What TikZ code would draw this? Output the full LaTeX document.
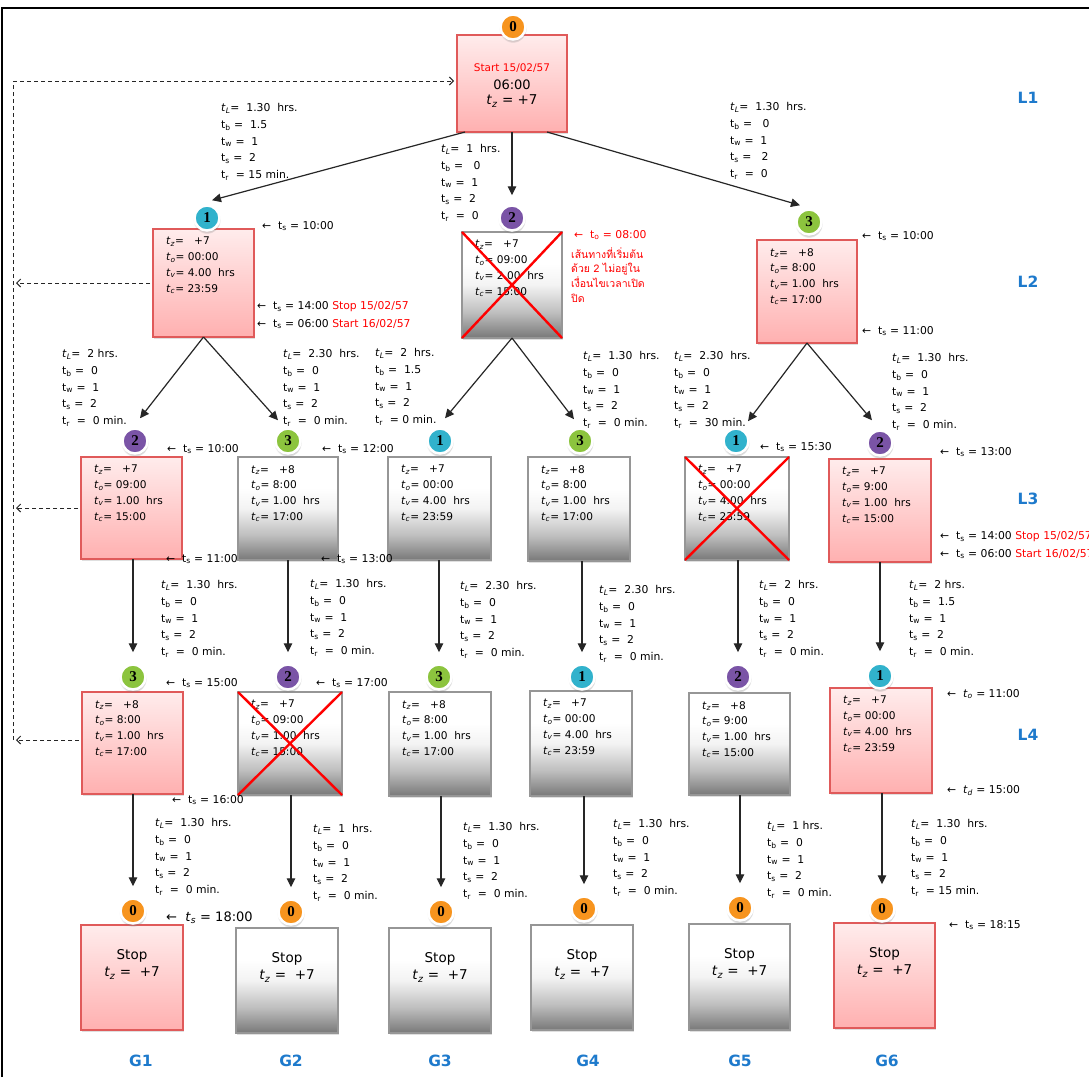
\documentclass[tikz,border=0pt]{standalone}
\usepackage{fontspec}
\setmainfont{DejaVu Sans}
\newfontfamily\thaifont[Script=Thai]{Loma}
\newfontfamily\numfont{Liberation Serif}
\usetikzlibrary{arrows.meta,shadows,calc}
\definecolor{pinkT}{RGB}{255,236,236}
\definecolor{pinkB}{RGB}{255,176,176}
\definecolor{pinkD}{RGB}{224,90,90}
\definecolor{grayD}{RGB}{150,150,150}
\definecolor{grayB}{RGB}{120,120,120}
\definecolor{grayM}{RGB}{190,190,190}
\definecolor{grayL}{RGB}{243,243,243}
\definecolor{orB}{RGB}{247,148,30}
\definecolor{teB}{RGB}{49,178,204}
\definecolor{puB}{RGB}{122,84,166}
\definecolor{grB}{RGB}{140,196,62}
\definecolor{blL}{RGB}{30,122,204}
\definecolor{redT}{RGB}{255,0,0}
\pgfdeclareverticalshading{pinkshade}{100bp}{color(0bp)=(pinkB); color(25bp)=(pinkB); color(75bp)=(pinkT); color(100bp)=(pinkT)}
\pgfdeclareverticalshading{grayshade}{100bp}{color(0bp)=(grayB); color(25bp)=(grayB); color(37bp)=(grayM); color(50bp)=(grayL); color(60bp)=(white); color(100bp)=(white)}
\newcommand{\ti}[1]{\textit{t}\textsubscript{\textit{#1}}}
\newcommand{\tu}[1]{t\textsubscript{#1}}
\newcommand{\bx}[6]{\node[#2, minimum width={#5-#3}, minimum height={#6-#4}] (#1) at ({(#3+#5)/2},{(#4+#6)/2}) {};}
\newcommand{\btx}[5]{\node[btxt] (#1t) at ([xshift=13pt,yshift=-8pt]#1.north west) {\ti{z}= \ \ #2\\\ti{o}= #3\\\ti{v}= #4\ \ hrs\\\ti{c}= #5};}
\newcommand{\stoptx}[1]{\node[stxt] (#1s) at ([yshift=-31pt]#1.north) {Stop};\node[stxt] (#1z) at ([yshift=-48pt]#1.north) {\ti{z} = \ +7};}
\newcommand{\elab}[7]{\node[elabel] (#1) at (#2) {\ti{L}= \ #3\\\tu{b} = \ #4\\\tu{w} = \ #5\\\tu{s} = \ #6\\\tu{r} \ = #7};}
\newcommand{\ann}[3]{\node[annot] (#1) at (#2) {←\ \ #3};}
\newcommand{\bdg}[4]{\node[badge=#2] (#1) at (#3) {#4};}
\tikzset{
  boxbase/.style={rectangle, inner sep=0pt, outer sep=0pt, line width=1.2pt, drop shadow={shadow xshift=0.5pt, shadow yshift=-2pt, opacity=0.25}},
  pinkbox/.style={boxbase, draw=pinkD, shade, shading=pinkshade},
  graybox/.style={boxbase, draw=grayD, shade, shading=grayshade},
  badge/.style={circle, fill=#1, draw=white, line width=2.5pt, minimum size=25pt, inner sep=0pt, font=\numfont\bfseries\fontsize{15}{15}\selectfont, circular drop shadow={shadow xshift=0pt, shadow yshift=-2pt, opacity=0.35}},
  btxt/.style={anchor=north west, inner sep=0pt, align=left, font=\fontsize{10.6}{15.7}\selectfont},
  stxt/.style={inner sep=0pt, font=\fontsize{13.5}{13.5}\selectfont},
  elabel/.style={anchor=north west, inner sep=0pt, align=left, font=\fontsize{10.8}{16.8}\selectfont},
  annot/.style={anchor=west, inner sep=0pt, font=\fontsize{10.8}{12}\selectfont},
  arr/.style={draw=black!85, line width=1.2pt, -{Triangle[length=9pt,width=8.5pt]}},
  dsh/.style={draw=black!85, line width=1pt, dash pattern=on 4pt off 3pt},
  barb/.style={-{Straight Barb[length=4pt,width=8pt]}},
  redx/.style={draw=redT, line width=2.4pt},
  lvl/.style={font=\bfseries\fontsize{15.5}{15.5}\selectfont, text=blL, inner sep=0pt},
}
\begin{document}
\begin{tikzpicture}[x=1pt,y=-1pt]
\useasboundingbox (0,0) rectangle (1089,1077);
\fill[white] (0,0) rectangle (1089,1077);
\draw[line width=1.6pt] (2,1077) -- (2,8) -- (1089,8);
% boxes
\bx{r}{pinkbox}{457}{35}{567}{132}
\bx{n1}{pinkbox}{153}{229}{254}{337}
\bx{n2}{graybox}{462}{232}{562}{338}
\bx{n3}{pinkbox}{757}{240}{857}{343}
\bx{A}{pinkbox}{81}{457}{182}{559}
\bx{B}{graybox}{238}{457}{338}{560}
\bx{C}{graybox}{388}{457}{491}{560}
\bx{D}{graybox}{528}{457}{630}{561}
\bx{E}{graybox}{685}{457}{789}{560}
\bx{F}{pinkbox}{829}{459}{931}{562}
\bx{A2}{pinkbox}{82}{692}{183}{794}
\bx{B2}{graybox}{238}{692}{342}{795}
\bx{C2}{graybox}{389}{692}{491}{796}
\bx{D2}{graybox}{530}{691}{632}{796}
\bx{E2}{graybox}{689}{693}{790}{795}
\bx{F2}{pinkbox}{830}{688}{932}{793}
\bx{G1}{pinkbox}{81}{925}{183}{1030}
\bx{G2}{graybox}{236}{928}{338}{1033}
\bx{G3}{graybox}{389}{928}{491}{1033}
\bx{G4}{graybox}{531}{925}{633}{1030}
\bx{G5}{graybox}{689}{924}{790}{1030}
\bx{G6}{pinkbox}{834}{923}{935}{1028}
% root text
\node[inner sep=0pt, text=redT, font=\fontsize{10.5}{10.5}\selectfont] (rt1) at (512,68) {Start 15/02/57};
\node[inner sep=0pt, font=\fontsize{13}{13}\selectfont] (rt2) at (512,85) {06:00};
\node[inner sep=0pt, font=\fontsize{13.5}{13.5}\selectfont] (rt3) at (512,101) {\ti{z} = +7};
% box texts
\btx{n1}{+7}{00:00}{4.00}{23:59}
\btx{n2}{+7}{09:00}{2.00}{15:00}
\btx{n3}{+8}{8:00}{1.00}{17:00}
\btx{A}{+7}{09:00}{1.00}{15:00}
\btx{B}{+8}{8:00}{1.00}{17:00}
\btx{C}{+7}{00:00}{4.00}{23:59}
\btx{D}{+8}{8:00}{1.00}{17:00}
\btx{E}{+7}{00:00}{4.00}{23:59}
\btx{F}{+7}{9:00}{1.00}{15:00}
\btx{A2}{+8}{8:00}{1.00}{17:00}
\btx{B2}{+7}{09:00}{1.00}{15:00}
\btx{C2}{+8}{8:00}{1.00}{17:00}
\btx{D2}{+7}{00:00}{4.00}{23:59}
\btx{E2}{+8}{9:00}{1.00}{15:00}
\btx{F2}{+7}{00:00}{4.00}{23:59}
\stoptx{G1}\stoptx{G2}\stoptx{G3}\stoptx{G4}\stoptx{G5}\stoptx{G6}
% crosses
\draw[redx] (n2.north west) -- (n2.south east) (n2.north east) -- (n2.south west);
\draw[redx] (E.north west) -- (E.south east) (E.north east) -- (E.south west);
\draw[redx] (B2.north west) -- (B2.south east) (B2.north east) -- (B2.south west);
% badges
\bdg{b0}{orB}{513,27}{0}
\bdg{b1}{teB}{207,218}{1}
\bdg{b2}{puB}{512,218}{2}
\bdg{b3}{grB}{809,222}{3}
\bdg{bA}{puB}{135,441}{2}
\bdg{bB}{grB}{288,441}{3}
\bdg{bC}{teB}{440,441}{1}
\bdg{bD}{grB}{580,441}{3}
\bdg{bE}{teB}{736,441}{1}
\bdg{bF}{puB}{880,443}{2}
\bdg{bA2}{grB}{133,677}{3}
\bdg{bB2}{puB}{288,677}{2}
\bdg{bC2}{grB}{439,677}{3}
\bdg{bD2}{teB}{582,677}{1}
\bdg{bE2}{puB}{738,677}{2}
\bdg{bF2}{teB}{880,676}{1}
\bdg{g1}{orB}{133,911}{0}
\bdg{g2}{orB}{291,912}{0}
\bdg{g3}{orB}{441,912}{0}
\bdg{g4}{orB}{584,909}{0}
\bdg{g5}{orB}{740,908}{0}
\bdg{g6}{orB}{882,909}{0}
% connectors
\draw[arr] ([xshift=8pt]r.south west) -- ([xshift=5pt,yshift=4pt]b1.north);
\draw[arr] (r.south) -- ([yshift=9pt]b2.north);
\draw[arr] ([xshift=-20pt]r.south east) -- ([xshift=-9pt,yshift=3pt]b3.north);
\draw[arr] (n1.south) -- ([xshift=5pt,yshift=9pt]bA.north);
\draw[arr] (n1.south) -- ([xshift=-10pt,yshift=7pt]bB.north);
\draw[arr] (n2.south) -- ([xshift=5pt,yshift=9pt]bC.north);
\draw[arr] (n2.south) -- ([xshift=-6pt,yshift=8pt]bD.north);
\draw[arr] (n3.south) -- ([xshift=12pt,yshift=6pt]bE.north);
\draw[arr] (n3.south) -- ([xshift=-8pt,yshift=9pt]bF.north);
\draw[arr] (A.south -| bA2) -- ([yshift=11pt]bA2.north);
\draw[arr] (B.south -| bB2) -- ([yshift=11pt]bB2.north);
\draw[arr] (C.south -| bC2) -- ([yshift=11pt]bC2.north);
\draw[arr] (D.south -| bD2) -- ([yshift=11pt]bD2.north);
\draw[arr] (E.south -| bE2) -- ([yshift=11pt]bE2.north);
\draw[arr] (F.south -| bF2) -- ([yshift=11pt]bF2.north);
\draw[arr] (A2.south -| g1) -- ([yshift=11pt]g1.north);
\draw[arr] (B2.south -| g2) -- ([yshift=11pt]g2.north);
\draw[arr] (C2.south -| g3) -- ([yshift=11pt]g3.north);
\draw[arr] (D2.south -| g4) -- ([yshift=11pt]g4.north);
\draw[arr] (E2.south -| g5) -- ([yshift=11pt]g5.north);
\draw[arr] (F2.south -| g6) -- ([yshift=11pt]g6.north);
% dashed feedback
\coordinate (dtop) at (13,81);
\coordinate (dbot) at (13,740);
\coordinate (d2) at (13,283);
\coordinate (d3) at (13,508);
\draw[dsh] (dbot) -- (dtop);
\draw[dsh,barb,shorten >=3pt] (dtop) -- (r.west |- dtop);
\draw[dsh,barb] ([xshift=-3pt]n1.west |- d2) -- ([xshift=3pt]d2);
\draw[dsh,barb] ([xshift=-3pt]A.west |- d3) -- ([xshift=3pt]d3);
\draw[dsh,barb] ([xshift=-3pt]A2.west |- dbot) -- ([xshift=3pt]dbot);
% edge labels
\elab{e1}{221,103}{1.30\ \ hrs.}{1.5}{1}{2}{15 min.}
\elab{e2}{441,144}{1\ \ hrs.}{\ 0}{1}{2}{\ 0}
\elab{e3}{730,102}{1.30\ \ hrs.}{\ 0}{1}{\ 2}{\ 0}
\elab{e4}{62,349}{2 hrs.}{0}{1}{2}{\ 0 min.}
\elab{e5}{283,349}{2.30\ \ hrs.}{0}{1}{2}{\ 0 min.}
\elab{e6}{375,348}{2\ \ hrs.}{1.5}{1}{2}{0 min.}
\elab{e7}{583,351}{1.30\ \ hrs.}{0}{1}{2}{\ 0 min.}
\elab{e8}{674,351}{2.30\ \ hrs.}{0}{1}{2}{\ 30 min.}
\elab{e9}{892,353}{1.30\ \ hrs.}{0}{1}{2}{\ 0 min.}
\elab{e10}{161,580}{1.30\ \ hrs.}{0}{1}{2}{\ 0 min.}
\elab{e11}{310,579}{1.30\ \ hrs.}{0}{1}{2}{\ 0 min.}
\elab{e12}{460,581}{2.30\ \ hrs.}{0}{1}{2}{\ 0 min.}
\elab{e13}{599,585}{2.30\ \ hrs.}{0}{1}{2}{\ 0 min.}
\elab{e14}{759,580}{2\ \ hrs.}{0}{1}{2}{\ 0 min.}
\elab{e15}{909,580}{2 hrs.}{1.5}{1}{2}{\ 0 min.}
\elab{e16}{155,818}{1.30\ \ hrs.}{0}{1}{2}{\ 0 min.}
\elab{e17}{313,824}{1\ \ hrs.}{0}{1}{2}{\ 0 min.}
\elab{e18}{463,822}{1.30\ \ hrs.}{0}{1}{2}{\ 0 min.}
\elab{e19}{613,819}{1.30\ \ hrs.}{0}{1}{2}{\ 0 min.}
\elab{e20}{767,821}{1 hrs.}{0}{1}{2}{\ 0 min.}
\elab{e21}{911,819}{1.30\ \ hrs.}{0}{1}{2}{15 min.}
% time annotations
\ann{a1}{262,226}{\tu{s} = 10:00}
\ann{a2}{257,307}{\tu{s} = 14:00 \textcolor{redT}{Stop 15/02/57}}
\ann{a3}{257,324}{\tu{s} = 06:00 \textcolor{redT}{Start 16/02/57}}
\node[annot, text=redT] (a4) at (574,235) {←\ \ \tu{o} = 08:00};
\node[anchor=north west, inner sep=0pt, align=left, text=redT, font=\thaifont\fontsize{10.5}{14.8}\selectfont] (thai) at (571,247) {เส้นทางที่เริ่มต้น\\ด้วย 2 ไม่อยู่ใน\\เงื่อนไขเวลาเปิด\\ปิด};
\ann{a5}{862,236}{\tu{s} = 10:00}
\ann{a6}{862,331}{\tu{s} = 11:00}
\ann{a7}{167,449}{\tu{s} = 10:00}
\ann{a8}{322,449}{\tu{s} = 12:00}
\ann{a9}{760,447}{\tu{s} = 15:30}
\ann{a10}{940,452}{\tu{s} = 13:00}
\ann{a11}{166,559}{\tu{s} = 11:00}
\ann{a12}{321,559}{\tu{s} = 13:00}
\ann{a13}{940,537}{\tu{s} = 14:00 \textcolor{redT}{Stop 15/02/57}}
\ann{a14}{940,554}{\tu{s} = 06:00 \textcolor{redT}{Start 16/02/57}}
\ann{a15}{166,683}{\tu{s} = 15:00}
\ann{a16}{316,683}{\tu{s} = 17:00}
\ann{a17}{947,694}{\ti{o} = 11:00}
\ann{a18}{947,791}{\ti{d} = 15:00}
\ann{a19}{172,800}{\tu{s} = 16:00}
\node[annot, font=\fontsize{13}{14}\selectfont] (a20) at (166,918) {←\ \ \ti{s} = 18:00};
\ann{a21}{949,925}{\tu{s} = 18:15}
% level and goal labels
\node[lvl] (L1) at (1028,98) {L1};
\node[lvl] (L2) at (1028,282) {L2};
\node[lvl] (L3) at (1028,499) {L3};
\node[lvl] (L4) at (1028,735) {L4};
\node[lvl] (GL1) at (141,1061) {G1};
\node[lvl] (GL2) at (291,1061) {G2};
\node[lvl] (GL3) at (440,1061) {G3};
\node[lvl] (GL4) at (588,1061) {G4};
\node[lvl] (GL5) at (740,1061) {G5};
\node[lvl] (GL6) at (887,1061) {G6};
\end{tikzpicture}
\end{document}
